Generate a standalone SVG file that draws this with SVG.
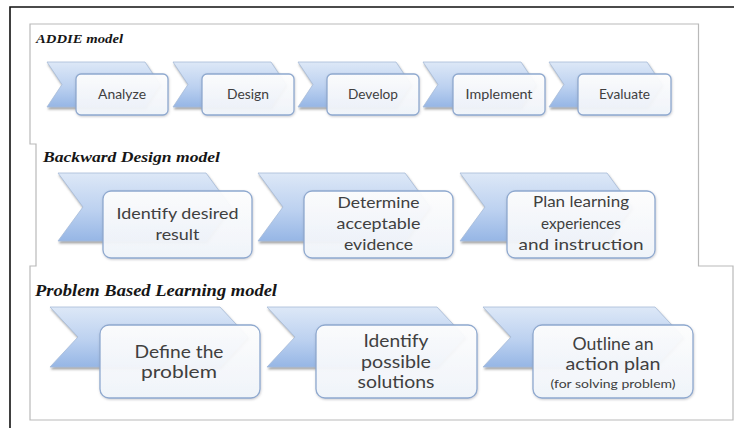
<svg xmlns="http://www.w3.org/2000/svg" width="734" height="428" viewBox="0 0 734 428">
<defs>
<linearGradient id="chev" x1="0" y1="0" x2="0" y2="1">
<stop offset="0" stop-color="#dde8f7"/>
<stop offset="0.55" stop-color="#bcd1f0"/>
<stop offset="1" stop-color="#96b6e5"/>
</linearGradient>
<linearGradient id="box" x1="0" y1="0" x2="0" y2="1">
<stop offset="0" stop-color="#ffffff"/>
<stop offset="1" stop-color="#f1f5fb"/>
</linearGradient>
<filter id="sh" x="-10%" y="-10%" width="130%" height="140%">
<feDropShadow dx="1" dy="2" stdDeviation="1.3" flood-color="#555" flood-opacity="0.55"/>
</filter>
<filter id="sh2" x="-10%" y="-10%" width="130%" height="140%">
<feDropShadow dx="0.5" dy="1" stdDeviation="1" flood-color="#667" flood-opacity="0.35"/>
</filter>
</defs>
<style>
.panel{fill:#ffffff;stroke:none}
.pl{fill:none;stroke:#b9b9b9;stroke-width:1.2}
.frame{fill:none;stroke:#111;stroke-width:1.6}
.title{font-family:"Liberation Serif","Times New Roman",serif;font-weight:bold;font-style:italic;fill:#161616}
.chev{fill:url(#chev);stroke:#a7bbd8;stroke-width:0.8;filter:url(#sh)}
.box{fill:url(#box);fill-opacity:0.93;stroke:#8fa9cf;stroke-width:1.3;filter:url(#sh2)}
.t{font-family:Lato,"Open Sans","Liberation Sans",sans-serif;fill:#404040;text-anchor:middle}
.a{font-size:13.5px}
.b{font-size:16px}
.c{font-size:16.5px}
.s{font-size:11.5px}
</style>
<rect x="0" y="0" width="734" height="428" fill="#ffffff"/>
<path class="frame" d="M10,428 V7 H734"/>
<g id="panels">
<rect class="panel" x="30" y="24" width="668.5" height="120"/>
<rect class="panel" x="36" y="144" width="662.5" height="122"/>
<rect class="panel" x="30" y="266" width="703" height="154"/>
<path class="pl" d="M30,144 V24 H698.5 V266 H733 V420 H30 V266 H36 V144 Z"/>
</g>
<g id="titles">
<text class="title" x="36" y="42.5" font-size="13" textLength="87" lengthAdjust="spacingAndGlyphs">ADDIE model</text>
<text class="title" x="43" y="162" font-size="15.5" textLength="177" lengthAdjust="spacingAndGlyphs">Backward Design model</text>
<text class="title" x="35" y="295.5" font-size="16.5" textLength="242" lengthAdjust="spacingAndGlyphs">Problem Based Learning model</text>
</g>
<g id="addie-analyze">
<polygon class="chev" points="47,62 145,62 160,84.5 145,107 47,107 62,84.5"/>
<rect class="box" x="76" y="74" width="92" height="41" rx="5"/>
<text class="t a" x="122" y="98.5" textLength="48" lengthAdjust="spacingAndGlyphs">Analyze</text>
</g>
<g id="addie-design">
<polygon class="chev" points="173,62 271,62 286,84.5 271,107 173,107 188,84.5"/>
<rect class="box" x="202" y="74" width="92" height="41" rx="5"/>
<text class="t a" x="248" y="98.5" textLength="42" lengthAdjust="spacingAndGlyphs">Design</text>
</g>
<g id="addie-develop">
<polygon class="chev" points="298,62 396,62 411,84.5 396,107 298,107 313,84.5"/>
<rect class="box" x="327" y="74" width="92" height="41" rx="5"/>
<text class="t a" x="373" y="98.5" textLength="50" lengthAdjust="spacingAndGlyphs">Develop</text>
</g>
<g id="addie-implement">
<polygon class="chev" points="423,62 521,62 536,84.5 521,107 423,107 438,84.5"/>
<rect class="box" x="453" y="74" width="92" height="41" rx="5"/>
<text class="t a" x="499" y="98.5" textLength="67" lengthAdjust="spacingAndGlyphs">Implement</text>
</g>
<g id="addie-evaluate">
<polygon class="chev" points="549,62 647,62 662,84.5 647,107 549,107 564,84.5"/>
<rect class="box" x="578" y="74" width="93" height="41" rx="5"/>
<text class="t a" x="624.5" y="98.5" textLength="51" lengthAdjust="spacingAndGlyphs">Evaluate</text>
</g>
<g id="bd-identify">
<polygon class="chev" points="58,173 206,173 231,207 206,241 58,241 83,207"/>
<rect class="box" x="103" y="191" width="149" height="67" rx="8"/>
<text class="t b" x="177.5" y="219" textLength="122" lengthAdjust="spacingAndGlyphs">Identify desired</text>
<text class="t b" x="177.5" y="239.5" textLength="44" lengthAdjust="spacingAndGlyphs">result</text>
</g>
<g id="bd-determine">
<polygon class="chev" points="258,173 405,173 430,207 405,241 258,241 283,207"/>
<rect class="box" x="304" y="191" width="149" height="67" rx="8"/>
<text class="t b" x="378.5" y="208" textLength="82" lengthAdjust="spacingAndGlyphs">Determine</text>
<text class="t b" x="378.5" y="229" textLength="84" lengthAdjust="spacingAndGlyphs">acceptable</text>
<text class="t b" x="378.5" y="250" textLength="69" lengthAdjust="spacingAndGlyphs">evidence</text>
</g>
<g id="bd-plan">
<polygon class="chev" points="460,173 607,173 632,207 607,241 460,241 485,207"/>
<rect class="box" x="507" y="191" width="148" height="67" rx="8"/>
<text class="t b" x="581" y="207" textLength="96" lengthAdjust="spacingAndGlyphs">Plan learning</text>
<text class="t b" x="581" y="228.5" textLength="80" lengthAdjust="spacingAndGlyphs">experiences</text>
<text class="t b" x="581" y="250" textLength="125" lengthAdjust="spacingAndGlyphs">and instruction</text>
</g>
<g id="pbl-define">
<polygon class="chev" points="50,307 220,307 248,337 220,367 50,367 78,337"/>
<rect class="box" x="100" y="325" width="160" height="73" rx="9"/>
<text class="t c" x="179" y="357.5" textLength="89" lengthAdjust="spacingAndGlyphs">Define the</text>
<text class="t c" x="179" y="378" textLength="76" lengthAdjust="spacingAndGlyphs">problem</text>
</g>
<g id="pbl-identify">
<polygon class="chev" points="267,307 437,307 465,337 437,367 267,367 295,337"/>
<rect class="box" x="316" y="325" width="161" height="73" rx="9"/>
<text class="t c" x="396" y="347" textLength="65" lengthAdjust="spacingAndGlyphs">Identify</text>
<text class="t c" x="396" y="367.5" textLength="70" lengthAdjust="spacingAndGlyphs">possible</text>
<text class="t c" x="396" y="388" textLength="77" lengthAdjust="spacingAndGlyphs">solutions</text>
</g>
<g id="pbl-outline">
<polygon class="chev" points="483,307 655,307 683,337 655,367 483,367 511,337"/>
<rect class="box" x="533" y="325" width="160" height="73" rx="9"/>
<text class="t c" x="613" y="350" textLength="81" lengthAdjust="spacingAndGlyphs">Outline an</text>
<text class="t c" x="613" y="370" textLength="95" lengthAdjust="spacingAndGlyphs">action plan</text>
<text class="t s" x="613" y="388" textLength="125" lengthAdjust="spacingAndGlyphs">(for solving problem)</text>
</g>
</svg>
